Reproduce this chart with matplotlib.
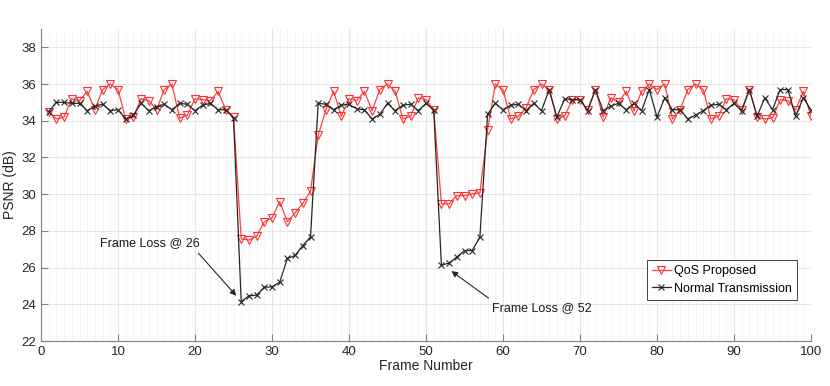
"""
PSNR per frame: QoS proposed scheme vs normal transmission.
"""
import matplotlib.pyplot as plt
from matplotlib.ticker import MultipleLocator

frames = list(range(1, 101))

qos_psnr = [
    34.5, 34.1, 34.2, 35.2, 35.1, 35.6, 34.6, 35.7, 36.0, 35.7,
    34.1, 34.2, 35.2, 35.1, 34.6, 35.7, 36.0, 34.15, 34.3, 35.2,
    35.15, 35.1, 35.6, 34.6, 34.2, 27.57, 27.5, 27.7, 28.5, 28.7,
    29.6, 28.5, 28.98, 29.5, 30.16, 33.2, 34.6, 35.6, 34.25, 35.2,
    35.1, 35.6, 34.55, 35.7, 36.0, 35.6, 34.1, 34.25, 35.25, 35.15,
    34.6, 29.47, 29.47, 29.92, 29.92, 30.02, 30.07, 33.5, 36.0, 35.7,
    34.1, 34.25, 34.7, 35.7, 36.0, 35.7, 34.1, 34.25, 35.15, 35.15,
    34.6, 35.7, 34.2, 35.25, 35.0, 35.6, 34.55, 35.6, 36.0, 35.7,
    36.0, 34.1, 34.6, 35.7, 36.0, 35.7, 34.1, 34.25, 35.2, 35.15,
    34.6, 35.7, 34.2, 34.1, 34.15, 35.15, 35.1, 34.6, 35.6, 34.25,
]

normal_psnr = [
    34.5, 35.0, 35.0, 34.95, 34.95, 34.55, 34.8, 34.9, 34.55, 34.6,
    34.1, 34.3, 34.95, 34.55, 34.75, 34.9, 34.6, 34.95, 34.9, 34.55,
    34.85, 34.95, 34.6, 34.6, 34.15, 24.15, 24.46, 24.5, 24.93, 24.95,
    25.2, 26.5, 26.66, 27.2, 27.67, 34.95, 34.9, 34.6, 34.85, 34.9,
    34.65, 34.6, 34.1, 34.35, 34.95, 34.55, 34.85, 34.9, 34.55, 34.95,
    34.6, 26.13, 26.25, 26.57, 26.93, 26.93, 27.67, 34.35, 34.95, 34.6,
    34.85, 34.9, 34.55, 34.95, 34.55, 35.7, 34.2, 35.2, 35.15, 35.15,
    34.55, 35.7, 34.55, 34.8, 34.95, 34.6, 34.95, 34.55, 35.7, 34.2,
    35.25, 34.6, 34.6, 34.1, 34.3, 34.55, 34.85, 34.9, 34.6, 34.95,
    34.55, 35.7, 34.25, 35.25, 34.6, 35.7, 35.7, 34.25, 35.25, 34.6,
]

plt.rcParams['font.family'] = ['Liberation Sans', 'DejaVu Sans']

fig = plt.figure(figsize=(8.3, 3.86), dpi=100)
ax = fig.add_axes([41 / 830, 45 / 386, 770 / 830, 312 / 386])

ax.plot(frames, qos_psnr, color='#ff4040', lw=0.9, marker='v', ms=5.5,
        mfc='none', mec='#ff3030', mew=0.8, label='QoS Proposed')
ax.plot(frames, normal_psnr, color='#262626', lw=0.9, marker='x', ms=4.5,
        mew=0.8, label='Normal Transmission')

ax.set_xlim(0, 100)
ax.set_ylim(22, 39)
ax.set_yticks(range(22, 39, 2))
ax.set_xticks(range(0, 101, 10))
ax.xaxis.set_minor_locator(MultipleLocator(1))

ax.grid(True, which='major', color='#e6e6e6', lw=0.8)
ax.grid(True, which='minor', axis='x', color='#e0e0e0', lw=0.6, ls=':')
ax.set_axisbelow(True)

for side in ('top', 'right'):
    ax.spines[side].set_visible(False)
for side in ('left', 'bottom'):
    ax.spines[side].set_color('#808080')
ax.tick_params(which='major', direction='in', length=5, color='#808080',
               labelsize=9.5, labelcolor='#262626')
ax.tick_params(which='minor', length=0)

ax.set_xlabel('Frame Number', fontsize=10, color='#262626', labelpad=1)
ax.set_ylabel('PSNR (dB)', fontsize=10, color='#262626', labelpad=3)

ax.annotate('', xy=(25.6, 24.35), xytext=(20.2, 26.9),
            arrowprops=dict(arrowstyle='-|>', color='#262626', lw=0.8,
                            mutation_scale=9))
ax.text(14.1, 27.35, 'Frame Loss @ 26', fontsize=9, ha='center', va='center',
        color='#1a1a1a')
ax.annotate('', xy=(53.0, 25.9), xytext=(58.4, 24.25),
            arrowprops=dict(arrowstyle='-|>', color='#262626', lw=0.8,
                            mutation_scale=9))
ax.text(65.0, 23.8, 'Frame Loss @ 52', fontsize=9, ha='center', va='center',
        color='#1a1a1a')

leg = ax.legend(loc='lower right', bbox_to_anchor=(0.982, 0.132), fontsize=9,
                fancybox=False, framealpha=1, edgecolor='#262626',
                handlelength=1.5, handletextpad=0.3, borderpad=0.4,
                labelspacing=0.45, borderaxespad=0)
leg.get_frame().set_linewidth(0.6)

fig.savefig('out.png', dpi=100)
